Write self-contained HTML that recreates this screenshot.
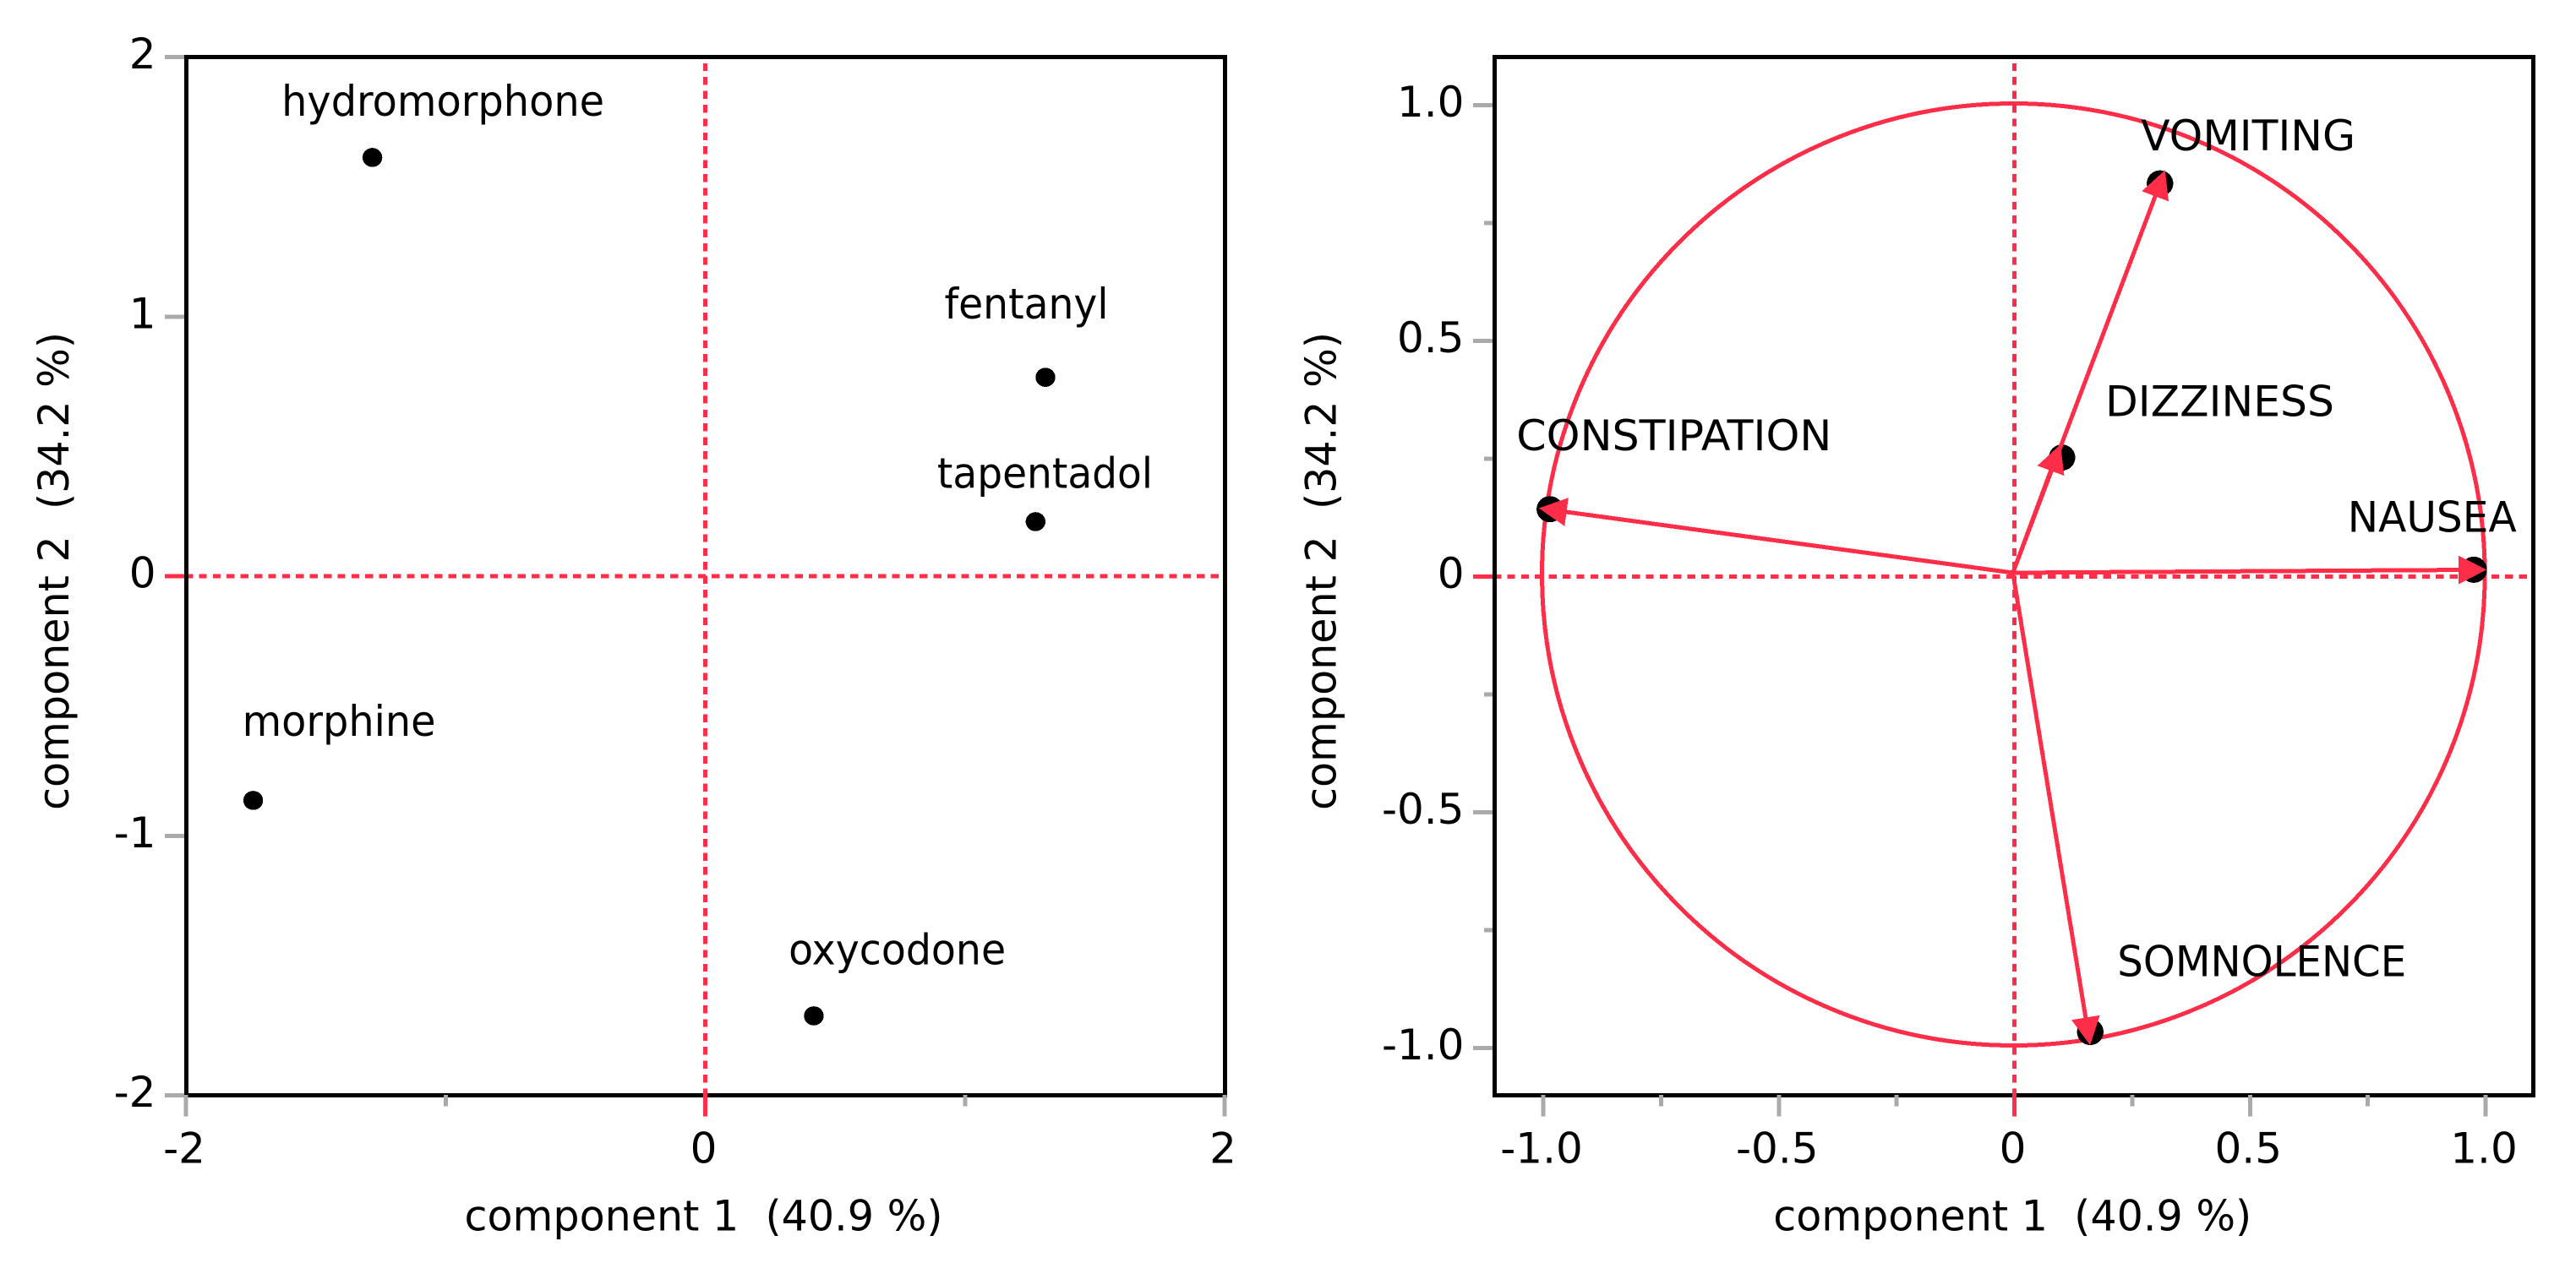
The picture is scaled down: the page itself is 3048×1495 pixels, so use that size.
<!DOCTYPE html>
<html lang="en">
<head>
<meta charset="utf-8">
<title>PCA score and loading plots</title>
<style>
html,body{margin:0;padding:0;background:#fff;}
svg{display:block;}
text{font-family:"DejaVu Sans","Liberation Sans",sans-serif;font-size:50px;fill:#000;white-space:pre;}
line,rect,circle,ellipse,polygon{shape-rendering:crispEdges;}
</style>
</head>
<body>
<svg id="chart" xmlns="http://www.w3.org/2000/svg" width="3048" height="1495" viewBox="0 0 3048 1495"></svg>
<script>
// Score plot data
const drugNames = ['hydromorphone','fentanyl','tapentadol','morphine','oxycodone'];
const drugComp1 = [-1.282, 1.31, 1.272, -1.741, 0.418];
const drugComp2 = [1.613, 0.766, 0.21, -0.864, -1.694];
const scoreXTicks = [-2, -1, 0, 1, 2];
const scoreXTickLabels = ['-2', '', '0', '', '2'];
const scoreYTicks = [2, 1, 0, -1, -2];
const scoreYTickLabels = ['2', '1', '0', '-1', '-2'];

// Loading plot data
const effectNames = ['CONSTIPATION','DIZZINESS','VOMITING','NAUSEA','SOMNOLENCE'];
const arrowComp1 = [-1.006, 0.101, 0.323, 1.005, 0.164];
const arrowComp2 = [0.137, 0.272, 0.854, 0.0065, -1.002];
const pointComp1 = [-0.986, 0.101, 0.309, 0.975, 0.161];
const pointComp2 = [0.143, 0.2525, 0.834, 0.0145, -0.966];
const loadXTicks = [-1, -0.75, -0.5, -0.25, 0, 0.25, 0.5, 0.75, 1];
const loadXTickLabels = ['-1.0', '', '-0.5', '', '0', '', '0.5', '', '1.0'];
const loadYTicks = [1, 0.75, 0.5, 0.25, 0, -0.25, -0.5, -0.75, -1];
const loadYTickLabels = ['1.0', '', '0.5', '', '0', '', '-0.5', '', '-1.0'];
const circleRadius = 1;

const xTitle = 'component 1  (40.9 %)';
const yTitle = 'component 2  (34.2 %)';

const NS = 'http://www.w3.org/2000/svg';
const RED = '#ff2d47';
const GREY = '#aaaaaa';
const svg = document.getElementById('chart');

function el(tag, attrs, parent, name) {
  const e = document.createElementNS(NS, tag);
  for (const k in attrs) e.setAttribute(k, attrs[k]);
  
  
  (parent || svg).appendChild(e);
  return e;
}
function label(str, x, y, anchor, parent, name, len) {
  const t = el('text', {x: x, y: y, 'text-anchor': anchor || 'start'}, parent, name);
  t.setAttribute('xml:space', 'preserve');
  if (len) {
    t.setAttribute('textLength', len);
    t.setAttribute('lengthAdjust', 'spacingAndGlyphs');
  }
  t.textContent = str;
  return t;
}

function drawFrame(g, box, xs, ys, xTicks, xLabels, yTicks, yLabels, opt) {
  // y ticks sit behind the frame
  yTicks.forEach(function (v, i) {
    const major = yLabels[i] !== '' || opt.allLong;
    if (v !== 0) el('line', {x1: box.l - (major ? 25.5 : 12.5), x2: box.l, y1: ys(v), y2: ys(v), stroke: GREY, 'stroke-width': 5}, g, 'y-axis-tick');
    if (yLabels[i] !== '') label(yLabels[i], box.l - 36, ys(v) + 13.5, 'end', g, 'y-tick-label');
  });
  // horizontal zero line: solid tail then dashes
  el('line', {x1: box.l - 25.5, x2: box.l, y1: ys(0), y2: ys(0), stroke: RED, 'stroke-width': 5}, g, 'horizontal-zero-tick');
  el('line', {x1: box.l - 1.5, x2: box.r - 7, y1: ys(0), y2: ys(0), stroke: RED, 'stroke-width': 5, 'stroke-dasharray': '9.3 7.1'}, g, 'horizontal-zero-line');
  // frame
  el('rect', {x: box.l, y: box.t, width: box.r - box.l, height: box.b - box.t, fill: 'none', stroke: '#000', 'stroke-width': 5}, g, 'plot-frame');
  // x ticks drawn over the frame
  xTicks.forEach(function (v, i) {
    const major = xLabels[i] !== '' || opt.allLong;
    const long = major && opt.longX.indexOf(v) >= 0;
    if (v !== 0) el('line', {x1: xs(v), x2: xs(v), y1: box.b - 0.5, y2: box.b + (long ? 25 : 13), stroke: GREY, 'stroke-width': 5}, g, 'x-axis-tick');
    if (xLabels[i] !== '') label(xLabels[i], xs(v) - 2, box.b + 80, 'middle', g, 'x-tick-label');
  });
  // vertical zero line: dashes then solid tail
  el('line', {x1: xs(0), x2: xs(0), y1: box.t + 7.3, y2: box.b - 8, stroke: RED, 'stroke-width': 5, 'stroke-dasharray': '9.3 7.1'}, g, 'vertical-zero-line');
  el('line', {x1: xs(0), x2: xs(0), y1: box.b - 8, y2: box.b + 25, stroke: RED, 'stroke-width': 5}, g, 'vertical-zero-tick');
  // axis titles
  label(xTitle, opt.xTitleX, 1456.5, 'start', g, 'x-axis-title', 566);
  const yt = label(yTitle, 0, 0, 'middle', g, 'y-axis-title', 566);
  yt.setAttribute('transform', 'translate(' + opt.yTitleX + ',676) rotate(-90)');
}

/* ---------- Score plot ---------- */
const scoreBox = {l: 220.5, r: 1449.5, t: 67.5, b: 1296.5};
const sx = function (v) { return 834.5 + v * 307.25; };
const sy = function (v) { return 682 - v * 307.25; };
const gScore = el('g', {}, svg, 'score-plot');
drawFrame(gScore, scoreBox, sx, sy, scoreXTicks, scoreXTickLabels, scoreYTicks, scoreYTickLabels,
  {allLong: true, longX: [-2, 0, 2], xTitleX: 549.5, yTitleX: 81});
// label layout relative to its point: dx, dy, fitted length
const scoreLabelLayout = {
  hydromorphone: [-107.5, -49.2, 382], fentanyl: [-119.5, -69.8, 194], tapentadol: [-116.4, -40.2, 255],
  morphine: [-13, -76.5, 229], oxycodone: [-29.8, -60.8, 257]
};
drugNames.forEach(function (n, i) {
  const x = sx(drugComp1[i]), y = sy(drugComp2[i]);
  el('ellipse', {cx: x, cy: y, rx: 11.7, ry: 11.3, fill: '#000'}, gScore, 'point-' + n);
  const a = scoreLabelLayout[n];
  label(n, x + a[0], y + a[1], 'start', gScore, 'label-' + n, a[2]);
});

/* ---------- Loading plot ---------- */
const loadBox = {l: 1768.5, r: 2997.5, t: 67.5, b: 1296.5};
const lx = function (v) { return 2383.5 + v * 557.5; };
const ly = function (v) { return 682.5 - v * 558; };
const gLoad = el('g', {}, svg, 'loading-plot');
drawFrame(gLoad, loadBox, lx, ly, loadXTicks, loadXTickLabels, loadYTicks, loadYTickLabels,
  {allLong: false, longX: [-1, -0.5, 0, 0.5, 1], xTitleX: 2098.2, yTitleX: 1580.5});
// circle and arrows share a slightly offset origin
el('ellipse', {cx: lx(0) - 1.2, cy: ly(0) - 2.5, rx: circleRadius * 557.8, ry: circleRadius * 557.5, fill: 'none', stroke: RED, 'stroke-width': 5}, gLoad, 'correlation-circle');
const ox = lx(0) - 1.8, oy = ly(0) - 4.5;
const loadLabelLayout = {
  CONSTIPATION: [-39.5, -69.7, 373], DIZZINESS: [51.2, -49.3, 271], VOMITING: [-22.7, -39, 254],
  NAUSEA: [-149.3, -45, 200], SOMNOLENCE: [32, -65.8, 342]
};
effectNames.forEach(function (n, i) {
  el('ellipse', {cx: lx(pointComp1[i]), cy: ly(pointComp2[i]), rx: 15.7, ry: 15.5, fill: '#000'}, gLoad, 'point-' + n.toLowerCase());
});
effectNames.forEach(function (n, i) {
  const tx = lx(arrowComp1[i]) - 1.8, ty = ly(arrowComp2[i]) - 4.5;
  const dx = tx - ox, dy = ty - oy, len = Math.hypot(dx, dy);
  const ux = dx / len, uy = dy / len;
  const bx = tx - ux * 33, by = ty - uy * 33;
  el('line', {x1: ox, y1: oy, x2: bx, y2: by, stroke: RED, 'stroke-width': 5}, gLoad, 'arrow-shaft-' + n.toLowerCase());
  const pts = [tx + ',' + ty, (bx - uy * 17) + ',' + (by + ux * 17), (bx + uy * 17) + ',' + (by - ux * 17)].join(' ');
  el('polygon', {points: pts, fill: RED}, gLoad, 'arrow-head-' + n.toLowerCase());
});
effectNames.forEach(function (n, i) {
  const a = loadLabelLayout[n];
  label(n, lx(pointComp1[i]) + a[0], ly(pointComp2[i]) + a[1], 'start', gLoad, 'label-' + n.toLowerCase(), a[2]);
});
</script>
</body>
</html>
